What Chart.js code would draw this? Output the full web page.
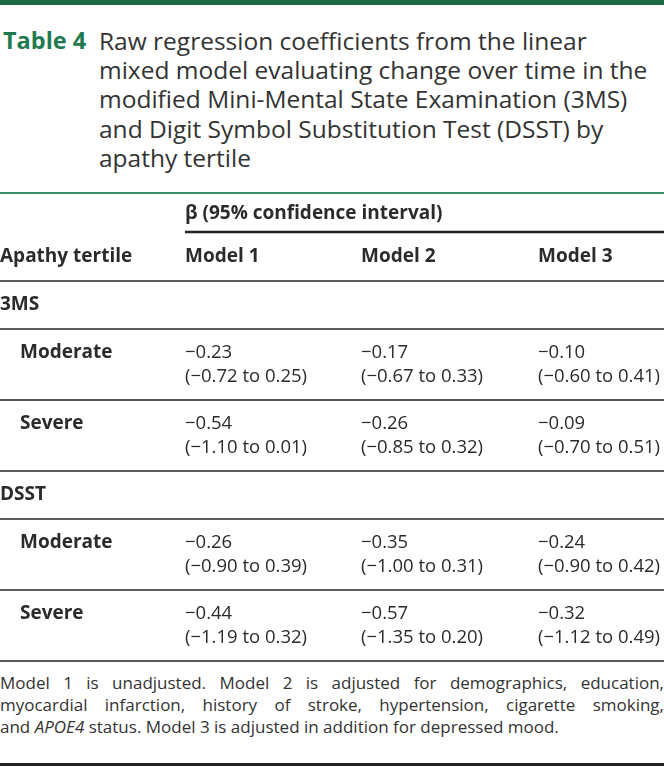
<!DOCTYPE html>
<html>
<head>
<meta charset="utf-8">
<script src="https://cdn.jsdelivr.net/npm/chart.js@4"></script>
<style>
  html, body { margin: 0; padding: 0; background: #fff; }
  body { width: 664px; height: 767px; overflow: hidden; position: relative; font-family: 'Open Sans', sans-serif; color: #2d2d2d; }
  .topbar { position: absolute; left: 0; top: 0; width: 664px; height: 5px; background: #1f6b48; }
  .title { position: absolute; left: 0; top: 26px; width: 664px; font-size: 24.5px; line-height: 29.2px; white-space: nowrap; }
  .title .tag { position: absolute; left: 3px; top: 0; font-weight: 700; color: #1f7a50; font-size: 23.5px; }
  .title .text { position: absolute; left: 99px; top: 0; color: #333; }
  .greenrule { position: absolute; left: 0; top: 192px; width: 664px; height: 2px; background: #3d8c68; }
  #table { position: absolute; left: 0; top: 194px; }
  .note { position: absolute; left: 0; top: 672px; width: 664px; font-size: 17px; line-height: 22px; color: #333; }
  .note div { text-align: justify; text-align-last: justify; white-space: nowrap; }
  .note div.last { text-align-last: left; }
  .bottomrule { position: absolute; left: 0; top: 763px; width: 664px; height: 3px; background: #222; }
</style>
</head>
<body>
<div class="topbar"></div>
<div class="title">
  <span class="tag">Table 4</span>
  <span class="text">Raw regression coefficients from the linear<br>mixed model evaluating change over time in the<br>modified Mini-Mental State Examination (3MS)<br>and Digit Symbol Substitution Test (DSST) by<br>apathy tertile</span>
</div>
<div class="greenrule"></div>
<canvas id="table" width="664" height="468"></canvas>
<div class="note">
  <div>Model 1 is unadjusted. Model 2 is adjusted for demographics, education,</div>
  <div>myocardial infarction, history of stroke, hypertension, cigarette smoking,</div>
  <div class="last">and <i>APOE4</i> status. Model 3 is adjusted in addition for depressed mood.</div>
</div>
<div class="bottomrule"></div>

<script>
document.addEventListener('DOMContentLoaded', function() {
    const groups = ['3MS', 'DSST'];
    const tertiles = ['Moderate', 'Severe'];
    const models = ['Model 1', 'Model 2', 'Model 3'];

    // rows: 3MS moderate, 3MS severe, DSST moderate, DSST severe
    const model1Beta = [-0.23, -0.54, -0.26, -0.44];
    const model1Low  = [-0.72, -1.10, -0.90, -1.19];
    const model1High = [0.25, 0.01, 0.39, 0.32];

    const model2Beta = [-0.17, -0.26, -0.35, -0.57];
    const model2Low  = [-0.67, -0.85, -1.00, -1.35];
    const model2High = [0.33, 0.32, 0.31, 0.20];

    const model3Beta = [-0.10, -0.09, -0.24, -0.32];
    const model3Low  = [-0.60, -0.70, -0.90, -1.12];
    const model3High = [0.41, 0.51, 0.42, 0.49];

    const betaArrays = [model1Beta, model2Beta, model3Beta];
    const lowArrays = [model1Low, model2Low, model3Low];
    const highArrays = [model1High, model2High, model3High];

    // layout (canvas units)
    const headerHeight = 87;
    const sectionHeight = 48;
    const rowHeight = 71;
    const colX = [185, 361, 538];
    const indent = 20;
    const lineGap = 24;

    function fmt(v) {
        return (v < 0 ? '\u2212' : '') + Math.abs(v).toFixed(2);
    }

    // work out row positions and separator lines
    const rowLines = [headerHeight];
    const sections = [];
    const dataRows = [];
    let y = headerHeight;
    groups.forEach(function(g) {
        sections.push({ label: g, y: y + 24 });
        y += sectionHeight;
        rowLines.push(y);
        tertiles.forEach(function(t) {
            dataRows.push({ label: t, y: y + 24 });
            y += rowHeight;
            rowLines.push(y);
        });
    });

    const datasets = models.map(function(m, mi) {
        return {
            label: m,
            data: dataRows.map(function(r, ri) {
                return { x: colX[mi], y: r.y, beta: betaArrays[mi][ri], lo: lowArrays[mi][ri], hi: highArrays[mi][ri] };
            }),
            pointRadius: 0,
            pointHoverRadius: 0
        };
    });

    const tableText = {
        id: 'tableText',
        afterDraw: function(chart) {
            const ctx = chart.ctx;
            const xs = chart.scales.x;
            const ys = chart.scales.y;
            ctx.save();
            ctx.textBaseline = 'middle';
            ctx.textAlign = 'left';
            ctx.fillStyle = '#2b2b2b';

            // spanning header
            ctx.font = 'bold 19px "Open Sans"';
            ctx.fillText('\u03b2 (95% confidence interval)', xs.getPixelForValue(colX[0]), ys.getPixelForValue(20));
            ctx.strokeStyle = '#222';
            ctx.lineWidth = 2.5;
            ctx.beginPath();
            ctx.moveTo(xs.getPixelForValue(colX[0]), ys.getPixelForValue(38));
            ctx.lineTo(xs.getPixelForValue(664), ys.getPixelForValue(38));
            ctx.stroke();

            // column headers
            ctx.fillText('Apathy tertile', xs.getPixelForValue(0), ys.getPixelForValue(63));
            models.forEach(function(m, i) {
                ctx.fillText(m, xs.getPixelForValue(colX[i]), ys.getPixelForValue(63));
            });

            sections.forEach(function(s) {
                ctx.fillText(s.label, xs.getPixelForValue(0), ys.getPixelForValue(s.y));
            });
            dataRows.forEach(function(r) {
                ctx.fillText(r.label, xs.getPixelForValue(indent), ys.getPixelForValue(r.y));
            });

            // values
            ctx.font = '18.5px "Open Sans"';
            chart.data.datasets.forEach(function(ds, di) {
                const meta = chart.getDatasetMeta(di);
                meta.data.forEach(function(pt, i) {
                    const d = ds.data[i];
                    ctx.fillText(fmt(d.beta), pt.x, pt.y);
                    ctx.fillText('(' + fmt(d.lo) + ' to ' + fmt(d.hi) + ')', pt.x, pt.y + lineGap);
                });
            });
            ctx.restore();
        }
    };

    new Chart(document.getElementById('table').getContext('2d'), {
        type: 'scatter',
        data: { datasets: datasets },
        options: {
            responsive: false,
            animation: false,
            devicePixelRatio: 1,
            layout: { padding: 0 },
            plugins: { legend: { display: false }, tooltip: { enabled: false } },
            events: [],
            scales: {
                x: { type: 'linear', min: 0, max: 664, display: false },
                y: {
                    type: 'linear', min: 0, max: 468, reverse: true,
                    afterBuildTicks: function(scale) {
                        scale.ticks = rowLines.map(function(v) { return { value: v }; });
                    },
                    ticks: { display: false },
                    grid: { color: '#5a5a5a', lineWidth: 2, drawTicks: false },
                    border: { display: false }
                }
            }
        },
        plugins: [tableText]
    });
});
</script>
</body>
</html>
